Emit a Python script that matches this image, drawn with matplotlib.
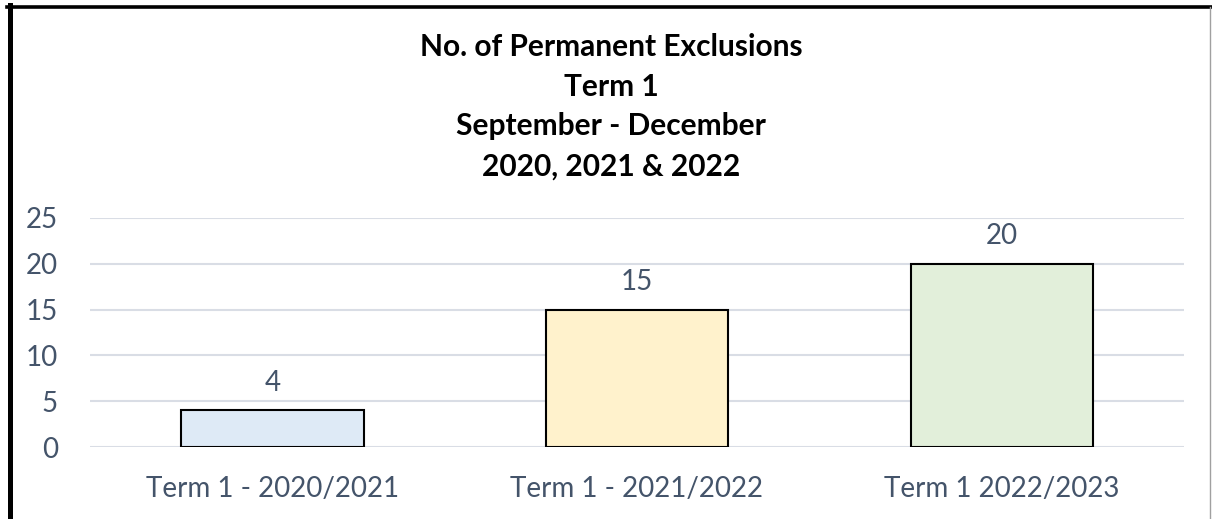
import matplotlib.pyplot as plt
from matplotlib.lines import Line2D

# data
terms = ['Term 1 - 2020/2021', 'Term 1 - 2021/2022', 'Term 1 2022/2023']
exclusions = [4, 15, 20]
bar_colors = ['#DEEAF6', '#FFF2CC', '#E2EFDA']
title_lines = ['No. of Permanent Exclusions', 'Term 1', 'September - December', '2020, 2021 & 2022']

txt_col = '#44546A'
plt.rcParams['font.family'] = ['Lato', 'DejaVu Sans']

fig = plt.figure(figsize=(12.12, 5.19), dpi=100)
ax = fig.add_axes([90 / 1212, 1 - 447 / 519, 1094 / 1212, 229 / 519])

x = range(len(terms))
bars = ax.bar(x, exclusions, width=0.5, color=bar_colors, edgecolor='black', linewidth=1.5, zorder=3)

for b, v in zip(bars, exclusions):
    ax.annotate(str(v), (b.get_x() + b.get_width() / 2, v), xytext=(0, 20),
                textcoords='offset points', ha='center', va='center',
                fontsize=20, color=txt_col)

ax.set_xlim(-0.5, len(terms) - 0.5)
ax.set_ylim(0, 25)
ax.set_yticks([0, 5, 10, 15, 20, 25])
ax.set_xticks(list(x))
ax.set_xticklabels(terms)
ax.tick_params(axis='both', length=0, labelsize=20, labelcolor=txt_col)
ax.tick_params(axis='y', pad=23)
ax.tick_params(axis='x', pad=21)
ax.grid(axis='y', color='#D9DDE5', linewidth=1.5, zorder=0)
for s in ax.spines.values():
    s.set_visible(False)

# title, one line each
for i, line in enumerate(title_lines):
    fig.text(611 / 1212, 1 - (56 + i * 39.7) / 519, line, ha='center', va='baseline',
             fontsize=21.5, fontweight='bold', color='black')

# chart frame
fig.add_artist(Line2D([9.5 / 1212, 9.5 / 1212], [0, 1 - 5 / 519], color='black', linewidth=3.6))
fig.add_artist(Line2D([7 / 1212, 1211 / 1212], [1 - 6.5 / 519, 1 - 6.5 / 519], color='black', linewidth=2.6))
fig.add_artist(Line2D([1210 / 1212, 1210 / 1212], [0, 1 - 6.5 / 519], color='#A0A0A0', linewidth=1))

fig.savefig('out.png', dpi=100)
